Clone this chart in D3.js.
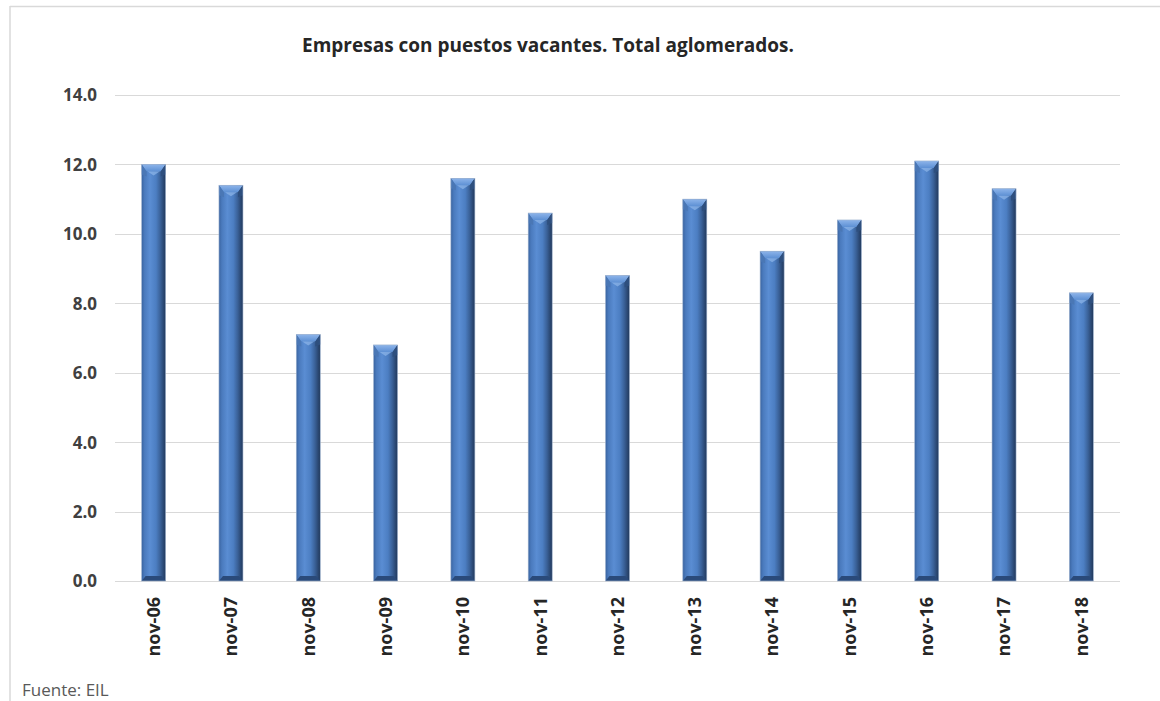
<!DOCTYPE html>
<html><head><meta charset="utf-8">
<script src="https://cdn.jsdelivr.net/npm/d3@7"></script>
<style>body{margin:0;background:#fff}svg{display:block}</style>
</head><body>
<script>
const categories = ["nov-06","nov-07","nov-08","nov-09","nov-10","nov-11","nov-12","nov-13","nov-14","nov-15","nov-16","nov-17","nov-18"];
const values = [12.0,11.4,7.1,6.8,11.6,10.6,8.8,11.0,9.5,10.4,12.1,11.3,8.3];
const yTicks = [0,2,4,6,8,10,12,14];
const title = "Empresas con puestos vacantes. Total aglomerados.";
const source = "Fuente: EIL";

const W = 1160, H = 701;
const FONT = "'Open Sans', 'Noto Sans', sans-serif";
const svg = d3.select("body").append("svg").attr("width", W).attr("height", H);

const defs = svg.append("defs");
const g1 = defs.append("linearGradient").attr("id","barg").attr("x1","0").attr("x2","1").attr("y1","0").attr("y2","0");
[[0,"#3a64a0"],[0.12,"#4a7abd"],[0.35,"#5a8dd3"],[0.6,"#4c7ec2"],[0.78,"#3a6198"],[0.9,"#2c4a76"],[1,"#22395c"]]
  .forEach(([o,c]) => g1.append("stop").attr("offset",o).attr("stop-color",c));
const g2 = defs.append("linearGradient").attr("id","capg").attr("x1","0").attr("x2","0").attr("y1","0").attr("y2","1");
[[0,"#8db4ea"],[1,"#5d90d4"]].forEach(([o,c]) => g2.append("stop").attr("offset",o).attr("stop-color",c));

// frame
svg.append("line").attr("x1",10).attr("x2",W).attr("y1",6.5).attr("y2",6.5).attr("stroke","#d9d9d9").attr("stroke-width",1.5);
svg.append("line").attr("x1",10).attr("x2",10).attr("y1",6).attr("y2",H).attr("stroke","#d9d9d9").attr("stroke-width",1.5);

const x = d3.scaleBand().domain(categories).range([115,1120]);
const y = d3.scaleLinear().domain([0,14]).range([581,95]);

// gridlines
svg.append("g").selectAll("line").data(yTicks).join("line")
  .attr("x1",115).attr("x2",1120).attr("y1",d=>Math.round(y(d))+0.5).attr("y2",d=>Math.round(y(d))+0.5)
  .attr("stroke","#d9d9d9").attr("stroke-width",1);

// y axis
const yAxis = svg.append("g").attr("transform","translate(97,0)")
  .call(d3.axisLeft(y).tickValues(yTicks).tickFormat(d3.format(".1f")).tickSize(0).tickPadding(0));
yAxis.select(".domain").remove();
yAxis.selectAll("text").attr("font-family",FONT).attr("font-weight","bold")
  .attr("font-size",17).attr("fill","#404040").attr("dy","0.35em");

// x axis
const xAxis = svg.append("g").attr("transform","translate(0,581)")
  .call(d3.axisBottom(x).tickSize(0).tickPadding(0));
xAxis.select(".domain").remove();
xAxis.selectAll("text").attr("font-family",FONT).attr("font-weight","bold")
  .attr("font-size",18).attr("fill","#262626")
  .attr("transform","rotate(-90)").attr("text-anchor","end").attr("x",-16).attr("y",0).attr("dy","0.35em");

// bars
const bw = 24;
const bars = svg.append("g").selectAll("g").data(categories.map((c,i)=>({c,v:values[i]}))).join("g")
  .attr("transform",d=>`translate(${x(d.c)+x.bandwidth()/2-bw/2},0)`);
bars.append("rect").attr("x",0).attr("width",bw).attr("y",d=>y(d.v)).attr("height",d=>y(0)-y(d.v))
  .attr("fill","url(#barg)");
bars.append("path").attr("d",d=>{const t=y(d.v);return `M0,${t} L${bw},${t} L${bw-5},${t+7} L5,${t+7} Z`;})
  .attr("fill","url(#capg)");
bars.append("path").attr("d",d=>{const t=y(d.v);return `M0,${t} L5,${t+7} L5,${t+12} L0,${t+10} Z`;})
  .attr("fill","#4a77b5");
bars.append("path").attr("d",d=>{const t=y(d.v);return `M${bw},${t} L${bw-5},${t+7} L${bw-5},${t+12} L${bw},${t+10} Z`;})
  .attr("fill","#2e4f7e");
bars.append("path").attr("d",d=>{const t=y(d.v);return `M${bw/2-6},${t+7} L${bw/2+6},${t+7} L${bw/2},${t+11} Z`;})
  .attr("fill","#8fb6ea").attr("opacity",0.7);
bars.append("path").attr("d",()=>{const b=y(0);return `M0,${b} L${bw},${b} L${bw-4},${b-5} L4,${b-5} Z`;})
  .attr("fill","#2a4a7a");
bars.append("rect").attr("x",0).attr("width",bw).attr("y",d=>y(d.v)).attr("height",d=>y(0)-y(d.v))
  .attr("fill","none").attr("stroke","#9fb3cf").attr("stroke-width",0.6);

// title
svg.append("text").attr("x",548).attr("y",52).attr("text-anchor","middle")
  .attr("font-family",FONT).attr("font-weight","bold").attr("font-size",19)
  .attr("fill","#262626").text(title);

// source
svg.append("text").attr("x",22).attr("y",696)
  .attr("font-family",FONT).attr("font-size",17)
  .attr("fill","#595959").text(source);
</script>
</body></html>
